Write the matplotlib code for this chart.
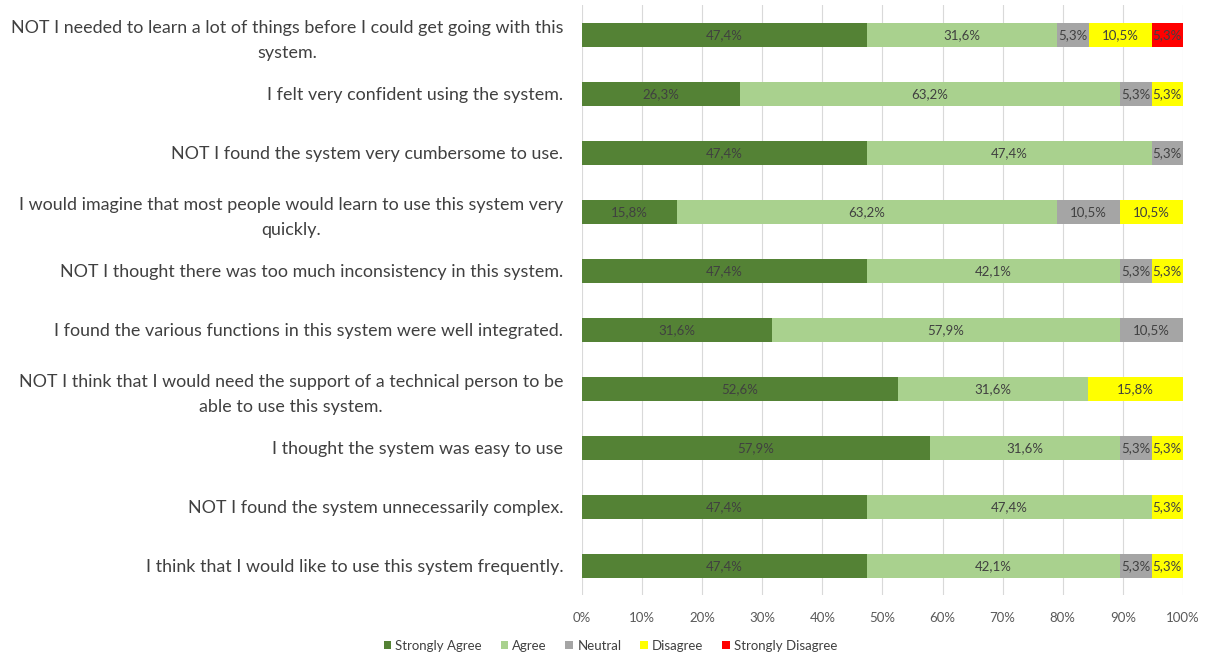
import matplotlib
matplotlib.use("Agg")
import matplotlib.pyplot as plt
import numpy as np

categories = [
    "NOT I needed to learn a lot of things before I could get going with this\nsystem.",
    "I felt very confident using the system.",
    "NOT I found the system very cumbersome to use.",
    "I would imagine that most people would learn to use this system very\nquickly.",
    "NOT I thought there was too much inconsistency in this system.",
    "I found the various functions in this system were well integrated.",
    "NOT I think that I would need the support of a technical person to be\nable to use this system.",
    "I thought the system was easy to use",
    "NOT I found the system unnecessarily complex.",
    "I think that I would like to use this system frequently.",
]
series_names = ["Strongly Agree", "Agree", "Neutral", "Disagree", "Strongly Disagree"]
strongly_agree = [47.4, 26.3, 47.4, 15.8, 47.4, 31.6, 52.6, 57.9, 47.4, 47.4]
agree = [31.6, 63.2, 47.4, 63.2, 42.1, 57.9, 31.6, 31.6, 47.4, 42.1]
neutral = [5.3, 5.3, 5.3, 10.5, 5.3, 10.5, 0, 5.3, 0, 5.3]
disagree = [10.5, 5.3, 0, 10.5, 5.3, 0, 15.8, 5.3, 5.3, 5.3]
strongly_disagree = [5.3, 0, 0, 0, 0, 0, 0, 0, 0, 0]
colors = ["#548235", "#A9D18E", "#A5A5A5", "#FFFF00", "#FF0000"]
xticks = [0, 10, 20, 30, 40, 50, 60, 70, 80, 90, 100]

plt.rcParams['font.family'] = ['Lato', 'DejaVu Sans']
fig = plt.figure(figsize=(12.06, 6.59), dpi=100)
ax = fig.add_axes([0.4826, 0.0964, 0.4983, 0.8953])

data = [strongly_agree, agree, neutral, disagree, strongly_disagree]
y = np.arange(len(categories))
left = np.zeros(len(categories))
for name, vals, col in zip(series_names, data, colors):
    vals = np.array(vals, dtype=float)
    ax.barh(y, vals, left=left, height=0.41, color=col, label=name, zorder=3)
    for i, v in enumerate(vals):
        if v > 0:
            cx = (left[i] + min(left[i] + v, 100)) / 2
            ax.text(cx, y[i], f"{v:.1f}%".replace(".", ","), ha="center", va="center",
                    fontsize=9.5, color="#404040", zorder=4)
    left += vals

ax.set_xlim(0, 100)
ax.set_ylim(len(categories) - 0.5, -0.5)
ax.set_xticks(xticks)
ax.set_xticklabels([f"{t}%" for t in xticks], fontsize=9.5, color="#595959")
ax.set_yticks(y)
ax.set_yticklabels(categories, fontsize=12.9, color="#404040", multialignment="center",
                   linespacing=1.65)
ax.tick_params(axis="both", length=0)
ax.tick_params(axis="y", pad=13.5)
ax.tick_params(axis="x", pad=12)
ax.grid(axis="x", color="#D9D9D9", linewidth=0.8, zorder=0)
for s in ax.spines.values():
    s.set_visible(False)

handles, labels = ax.get_legend_handles_labels()
fig.legend(handles, labels, loc="center", bbox_to_anchor=(0.506, 0.02), ncol=5,
           frameon=False, fontsize=9.5, handlelength=0.6, handleheight=0.6,
           handletextpad=0.3, columnspacing=1.4, labelcolor="#404040")

fig.savefig("out.png", dpi=100)
